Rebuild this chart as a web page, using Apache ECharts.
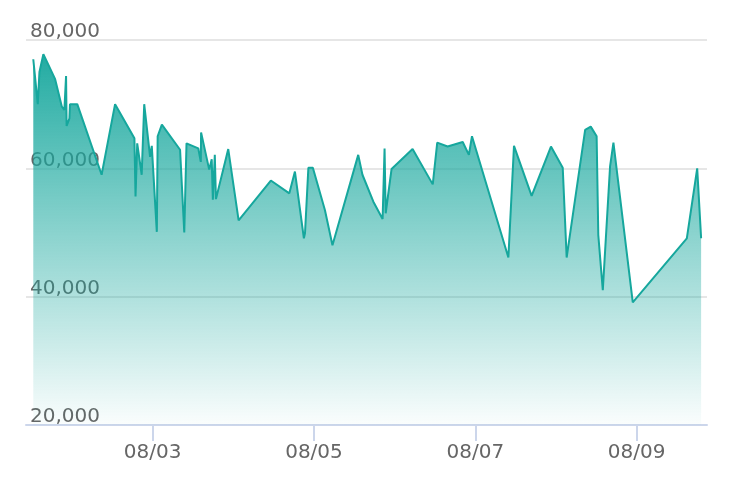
<!DOCTYPE html>
<html>
<head>
<meta charset="utf-8">
<script src="https://cdn.jsdelivr.net/npm/echarts@6/dist/echarts.min.js"></script>
<style>html,body{margin:0;padding:0;background:#fff;}#c{width:732px;height:492px;}</style>
</head>
<body>
<div id="c"></div>
<script>
const times = [
'2024-08-01 12:30','2024-08-01 13:50','2024-08-01 14:20','2024-08-01 15:30','2024-08-01 19:00',
'2024-08-01 21:00','2024-08-01 21:45','2024-08-01 22:15','2024-08-01 22:25','2024-08-01 23:15',
'2024-08-01 23:25','2024-08-02 01:35','2024-08-02 08:50','2024-08-02 12:50','2024-08-02 18:35',
'2024-08-02 18:55','2024-08-02 19:25','2024-08-02 20:45','2024-08-02 21:30','2024-08-02 23:15',
'2024-08-02 23:45','2024-08-03 01:15','2024-08-03 01:30','2024-08-03 02:45','2024-08-03 08:10',
'2024-08-03 09:25','2024-08-03 10:05','2024-08-03 13:35','2024-08-03 14:20','2024-08-03 14:25',
'2024-08-03 16:50','2024-08-03 17:35','2024-08-03 17:55','2024-08-03 18:30','2024-08-03 18:50',
'2024-08-03 22:30','2024-08-04 01:35','2024-08-04 11:10','2024-08-04 16:40','2024-08-04 18:20',
'2024-08-04 21:00','2024-08-04 21:20','2024-08-04 22:20','2024-08-04 23:40','2024-08-05 03:15',
'2024-08-05 05:30','2024-08-05 13:10','2024-08-05 14:25','2024-08-05 17:40','2024-08-05 20:25',
'2024-08-05 21:00','2024-08-05 21:20','2024-08-05 23:05','2024-08-06 05:20','2024-08-06 11:20',
'2024-08-06 12:40','2024-08-06 15:45','2024-08-06 20:15','2024-08-06 22:05','2024-08-06 23:00',
'2024-08-07 09:50','2024-08-07 11:30','2024-08-07 16:45','2024-08-07 22:30','2024-08-08 02:00',
'2024-08-08 03:10','2024-08-08 08:40','2024-08-08 10:20','2024-08-08 12:05','2024-08-08 12:35',
'2024-08-08 13:55','2024-08-08 16:05','2024-08-08 17:05','2024-08-08 22:50','2024-08-09 14:55',
'2024-08-09 18:00','2024-08-09 19:10'
];
const values = [
77000,70000,75000,77800,73900,
69600,69100,74400,66600,67800,
70000,70000,59000,70000,64700,
55600,63900,59000,70000,61800,
63500,50100,65000,66800,62900,
50000,63900,63100,61000,65600,
59800,61400,55100,62100,55200,
63000,51900,58100,56100,59500,
49100,49900,60100,60100,53500,
48000,62100,59000,54800,52100,
63100,53000,59900,63000,57500,
64000,63400,64100,62100,65000,
46100,63500,55700,63400,60100,
46100,66000,66500,65000,49600,
41000,60300,64000,39100,49100,
60000,49100
];
const xMin = '2024-08-01 10:20';
const xMax = '2024-08-09 20:55';
const yTicks = [20000, 40000, 60000, 80000];

const chart = echarts.init(document.getElementById('c'), null, {renderer: 'canvas'});
const DAY = 86400000;
chart.setOption({
  animation: false,
  grid: {left: 26, right: 25, top: 40, bottom: 67, containLabel: false},
  xAxis: {
    type: 'time',
    min: xMin, max: xMax,
    minInterval: 2 * DAY, maxInterval: 2 * DAY,
    axisLine: {lineStyle: {color: '#ccd6eb', width: 2}},
    axisTick: {show: true, length: 16, lineStyle: {color: '#ccd6eb', width: 2}},
    splitLine: {show: false},
    axisLabel: {
      margin: 18, color: '#666', fontFamily: 'DejaVu Sans', fontSize: 20,
      formatter: function (v) { const d = new Date(v); return String(d.getMonth()+1).padStart(2,'0') + '/' + String(d.getDate()).padStart(2,'0'); },
      hideOverlap: true
    }
  },
  yAxis: {
    type: 'value',
    min: yTicks[0], max: yTicks[yTicks.length-1], interval: 20000,
    axisLine: {show: false}, axisTick: {show: false},
    splitLine: {lineStyle: {color: '#e6e6e6', width: 2}},
    axisLabel: {
      inside: true, margin: 4, align: 'left', verticalAlign: 'bottom',
      lineHeight: 16, padding: 0,
      color: '#666', fontFamily: 'DejaVu Sans', fontSize: 20,
      formatter: function (v) { return v.toLocaleString('en-US'); }
    }
  },
  series: [{
    type: 'line',
    data: times.map((t, i) => [t, values[i]]),
    showSymbol: false, symbol: 'none',
    lineStyle: {color: '#16a79d', width: 2},
    itemStyle: {color: '#16a79d'},
    areaStyle: {
      origin: 'start',
      opacity: 1,
      color: new echarts.graphic.LinearGradient(0, 0, 0, 1, [
        {offset: 0, color: 'rgba(22,167,157,0.95)'},
        {offset: 1, color: 'rgba(22,167,157,0.02)'}
      ])
    }
  }]
});
</script>
</body>
</html>
